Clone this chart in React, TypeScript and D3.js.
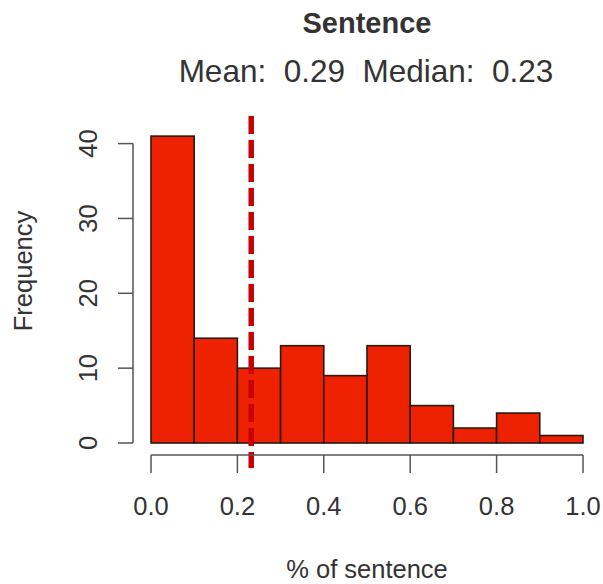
import React from "react";
import * as d3 from "d3";

const binStarts = [0.0, 0.1, 0.2, 0.3, 0.4, 0.5, 0.6, 0.7, 0.8, 0.9];
const binWidth = 0.1;
const counts = [41, 14, 10, 13, 9, 13, 5, 2, 4, 1];
const xTicks = [0.0, 0.2, 0.4, 0.6, 0.8, 1.0];
const yTicks = [0, 10, 20, 30, 40];
const meanValue = 0.29;
const medianValue = 0.232;
const title = "Sentence";
const subtitle = "Mean:  0.29  Median:  0.23";
const xLabel = "% of sentence";
const yLabel = "Frequency";

export default function App() {
  const W = 603, H = 584;
  const x = d3.scaleLinear().domain([0, 1]).range([151, 583]);
  const y = d3.scaleLinear().domain([0, 40]).range([443, 143.6]);
  const font = "'Liberation Sans', Arial, Helvetica, sans-serif";
  const textCol = "#333";
  const axisCol = "#555";
  const plotTop = 116, plotBottom = 468;
  const xAxisY = 455;
  const yAxisX = 133;
  const axisFont = 25.5;

  return (
    <svg width={W} height={H} style={{ position: "absolute", left: 0, top: 0, background: "#fff" }}>
      <text x={367} y={33} textAnchor="middle" fontFamily={font} fontWeight="bold" fontSize={29} fill={textCol}>{title}</text>
      <text x={366} y={82} textAnchor="middle" fontFamily={font} fontSize={31.5} fill={textCol} style={{ whiteSpace: "pre" }}>{subtitle}</text>

      {counts.map((c, i) => (
        <rect key={i}
          x={x(binStarts[i])} y={y(c)}
          width={x(binStarts[i] + binWidth) - x(binStarts[i])}
          height={y(0) - y(c)}
          fill="#EE2200" stroke="#2a1a14" strokeWidth={1.6} />
      ))}

      <line x1={x(medianValue)} x2={x(medianValue)} y1={plotTop} y2={plotBottom}
        stroke="#C80000" strokeWidth={5.5} strokeDasharray="18 6" />

      {/* x axis */}
      <line x1={x(0)} x2={x(1)} y1={xAxisY} y2={xAxisY} stroke={axisCol} strokeWidth={1.5} />
      {xTicks.map((t) => (
        <g key={t}>
          <line x1={x(t)} x2={x(t)} y1={xAxisY} y2={xAxisY + 18} stroke={axisCol} strokeWidth={1.5} />
          <text x={x(t)} y={515} textAnchor="middle" fontFamily={font} fontSize={axisFont} fill={textCol}>{t.toFixed(1)}</text>
        </g>
      ))}
      <text x={367} y={578} textAnchor="middle" fontFamily={font} fontSize={axisFont} fill={textCol}>{xLabel}</text>

      {/* y axis */}
      <line x1={yAxisX} x2={yAxisX} y1={y(0)} y2={y(40)} stroke={axisCol} strokeWidth={1.5} />
      {yTicks.map((t) => (
        <g key={t}>
          <line x1={yAxisX - 15} x2={yAxisX} y1={y(t)} y2={y(t)} stroke={axisCol} strokeWidth={1.5} />
          <text transform={`translate(97,${y(t)}) rotate(-90)`} textAnchor="middle" fontFamily={font} fontSize={axisFont} fill={textCol}>{t}</text>
        </g>
      ))}
      <text transform={`translate(32,271) rotate(-90)`} textAnchor="middle" fontFamily={font} fontSize={axisFont} fill={textCol}>{yLabel}</text>
    </svg>
  );
}
